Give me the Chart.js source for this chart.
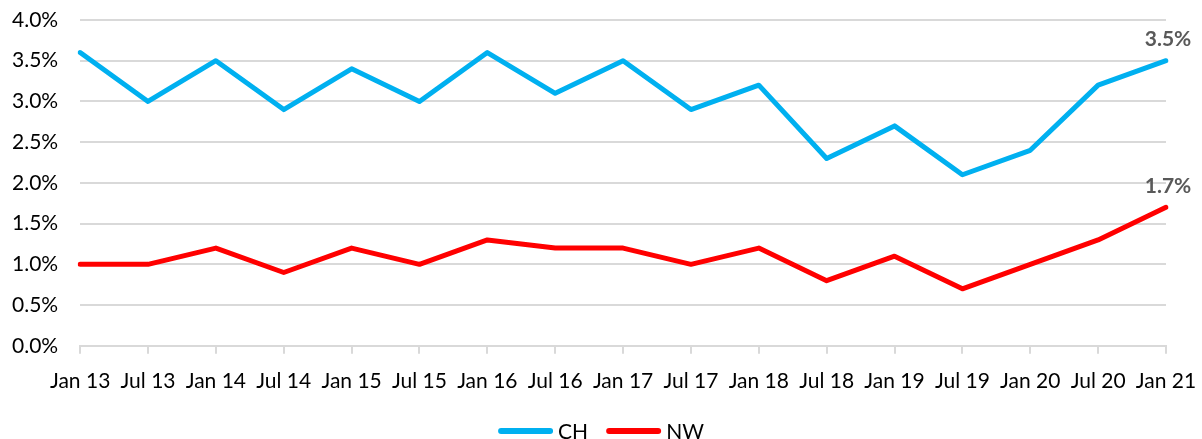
<!DOCTYPE html>
<html>
<head>
<meta charset="utf-8">
<script src="https://cdn.jsdelivr.net/npm/chart.js@4/dist/chart.umd.min.js"></script>
<style>
  html, body { margin: 0; padding: 0; background: #fff; }
  #wrap { width: 1202px; height: 439px; }
</style>
</head>
<body>
<div id="wrap"><canvas id="chart" width="1202" height="439"></canvas></div>
<script>
// categories and values
const labels = ['Jan 13', 'Jul 13', 'Jan 14', 'Jul 14', 'Jan 15', 'Jul 15', 'Jan 16', 'Jul 16', 'Jan 17',
                'Jul 17', 'Jan 18', 'Jul 18', 'Jan 19', 'Jul 19', 'Jan 20', 'Jul 20', 'Jan 21'];
const chValues = [3.6, 3.0, 3.5, 2.9, 3.4, 3.0, 3.6, 3.1, 3.5, 2.9, 3.2, 2.3, 2.7, 2.1, 2.4, 3.2, 3.5];
const nwValues = [1.0, 1.0, 1.2, 0.9, 1.2, 1.0, 1.3, 1.2, 1.2, 1.0, 1.2, 0.8, 1.1, 0.7, 1.0, 1.3, 1.7];

const fontFamily = 'Lato, "Open Sans", sans-serif';
const gridColor = '#d9d9d9';

// label the last point of each series
const lastLabel = {
    id: 'lastLabel',
    afterDatasetsDraw(chart) {
        const ctx = chart.ctx;
        ctx.save();
        ctx.font = 'bold 21px ' + fontFamily;
        ctx.fillStyle = '#595959';
        ctx.textAlign = 'center';
        ctx.textBaseline = 'bottom';
        chart.data.datasets.forEach((ds, i) => {
            const meta = chart.getDatasetMeta(i);
            const pt = meta.data[meta.data.length - 1];
            const v = ds.data[ds.data.length - 1];
            ctx.fillText(v.toFixed(1) + '%', pt.x + 2, pt.y - 11);
        });
        ctx.restore();
    }
};

// short tick marks under the x axis (the axis tick space is used as label gap)
const xTickMarks = {
    id: 'xTickMarks',
    afterDraw(chart) {
        const x = chart.scales.x;
        const ctx = chart.ctx;
        ctx.save();
        ctx.strokeStyle = gridColor;
        ctx.lineWidth = 2;
        ctx.beginPath();
        x.ticks.forEach((t, i) => {
            const px = Math.round(x.getPixelForTick(i));
            ctx.moveTo(px, x.top);
            ctx.lineTo(px, x.top + 8);
        });
        ctx.stroke();
        ctx.restore();
    }
};

// legend centred on the page, drawn under the axis
const bottomLegend = {
    id: 'bottomLegend',
    afterDraw(chart) {
        const ctx = chart.ctx;
        const sets = chart.data.datasets;
        const lineLen = 55, textGap = 5, itemGap = 18, y = 431;
        ctx.save();
        ctx.font = '21px ' + fontFamily;
        const widths = sets.map(ds => lineLen + textGap + ctx.measureText(ds.label).width);
        const total = widths.reduce((a, b) => a + b, 0) + itemGap * (sets.length - 1);
        let x = chart.width / 2 - total / 2;
        sets.forEach((ds, i) => {
            ctx.strokeStyle = ds.borderColor;
            ctx.lineWidth = 6;
            ctx.lineCap = 'round';
            ctx.beginPath();
            ctx.moveTo(x + 3, y);
            ctx.lineTo(x + lineLen - 3, y);
            ctx.stroke();
            ctx.fillStyle = '#000';
            ctx.textAlign = 'left';
            ctx.textBaseline = 'middle';
            ctx.fillText(ds.label, x + lineLen + textGap, y + 1);
            x += widths[i] + itemGap;
        });
        ctx.restore();
    }
};

new Chart(document.getElementById('chart').getContext('2d'), {
    type: 'line',
    data: {
        labels: labels,
        datasets: [{
            label: 'CH',
            data: chValues,
            borderColor: '#00B0F0',
            backgroundColor: '#00B0F0',
            borderWidth: 5,
            borderJoinStyle: 'round',
            borderCapStyle: 'round',
            pointRadius: 0,
            tension: 0
        }, {
            label: 'NW',
            data: nwValues,
            borderColor: '#FF0000',
            backgroundColor: '#FF0000',
            borderWidth: 5,
            borderJoinStyle: 'round',
            borderCapStyle: 'round',
            pointRadius: 0,
            tension: 0
        }]
    },
    options: {
        responsive: false,
        animation: false,
        layout: { padding: { top: 20, right: 36, left: 12, bottom: 45 } },
        plugins: {
            tooltip: { enabled: false },
            legend: { display: false }
        },
        scales: {
            x: {
                offset: false,
                grid: {
                    display: true,
                    drawOnChartArea: false,
                    drawTicks: true,
                    tickLength: 23,
                    tickColor: 'rgba(0,0,0,0)'
                },
                border: { color: gridColor, width: 2 },
                ticks: {
                    font: { family: fontFamily, size: 21 },
                    color: '#000',
                    maxRotation: 0,
                    autoSkip: false,
                    padding: 0
                }
            },
            y: {
                min: 0,
                max: 4,
                grid: { color: gridColor, lineWidth: 2, drawTicks: true, tickLength: 22, tickColor: 'rgba(0,0,0,0)' },
                border: { display: false },
                ticks: {
                    stepSize: 0.5,
                    font: { family: fontFamily, size: 21 },
                    color: '#000',
                    padding: 0,
                    callback: v => v.toFixed(1) + '%'
                }
            }
        }
    },
    plugins: [lastLabel, xTickMarks, bottomLegend]
});
</script>
</body>
</html>
